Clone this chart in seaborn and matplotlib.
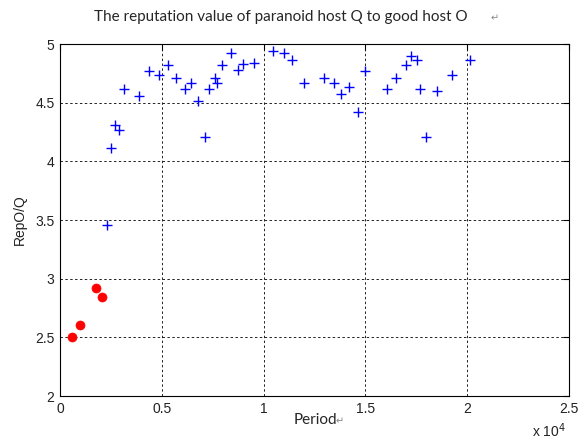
import matplotlib
matplotlib.use("Agg")
import matplotlib.pyplot as plt
import seaborn as sns
import pandas as pd

# Data (Period, RepO/Q)
blue_period = [2295, 2490, 2705, 2915, 3160, 3900, 4360, 4880, 5290, 5700,
               6160, 6440, 6800, 7110, 7340, 7620, 7730, 7980, 8390, 8750,
               8980, 9520, 10470, 11000, 11410, 11960, 12990, 13460, 13800, 14210,
               14640, 14980, 16040, 16500, 17010, 17230, 17520, 17670, 17960, 18500,
               19260, 20120]
blue_rep = [3.46, 4.11, 4.31, 4.27, 4.62, 4.56, 4.77, 4.74, 4.82, 4.71,
            4.62, 4.67, 4.51, 4.21, 4.62, 4.71, 4.67, 4.82, 4.92, 4.78,
            4.83, 4.84, 4.94, 4.92, 4.86, 4.67, 4.71, 4.67, 4.57, 4.63,
            4.42, 4.77, 4.62, 4.71, 4.82, 4.90, 4.86, 4.62, 4.21, 4.60,
            4.74, 4.86]
red_period = [575, 983, 1770, 2080]
red_rep = [2.50, 2.605, 2.92, 2.84]

xticks = [0, 5000, 10000, 15000, 20000, 25000]
xticklabels = ["0", "0.5", "1", "1.5", "2", "2.5"]
yticks = [2, 2.5, 3, 3.5, 4, 4.5, 5]
yticklabels = ["2", "2.5", "3", "3.5", "4", "4.5", "5"]

blue_df = pd.DataFrame({"Period": blue_period, "Rep": blue_rep})
red_df = pd.DataFrame({"Period": red_period, "Rep": red_rep})

sns.set_style("white")
plt.rcParams["font.family"] = ["Liberation Sans", "DejaVu Sans"]

fig = plt.figure(figsize=(5.82, 4.40), dpi=100)
ax = fig.add_axes([60 / 582, 1 - 396 / 440, (569 - 60) / 582, (396 - 44) / 440])

sns.scatterplot(data=blue_df, x="Period", y="Rep", ax=ax, marker="+",
                color="#0000ff", s=55, linewidth=1.0, zorder=3)
sns.scatterplot(data=red_df, x="Period", y="Rep", ax=ax, marker="o",
                color="#ff0000", s=42, edgecolor="#ff0000", linewidth=0.5, zorder=3)

ax.set_xlim(0, 25000)
ax.set_ylim(2, 5)
ax.set_xticks(xticks)
ax.set_xticklabels(xticklabels)
ax.set_yticks(yticks)
ax.set_yticklabels(yticklabels)
ax.tick_params(direction="in", length=4, width=0.8, top=True, right=True,
               labelsize=10, colors="black", labelcolor="#222222", pad=4)
ax.grid(True, color="#222222", linestyle=(0, (2.5, 2.5)), linewidth=0.7)
for sp in ax.spines.values():
    sp.set_visible(True)
    sp.set_color("black")
    sp.set_linewidth(0.8)

ax.set_xlabel("")
ax.set_ylabel("RepO/Q", fontsize=10, labelpad=6, color="#222222")

fig.text(281 / 582, 1 - 17 / 440, "The reputation value of paranoid host Q to good host O",
         ha="center", va="center", fontsize=11, family=["Lato", "DejaVu Sans"])
fig.text(495 / 582, 1 - 18 / 440, "\u21b5", ha="center", va="center", fontsize=7,
         color="#888888", family=["DejaVu Sans"])
fig.text(315 / 582, 1 - 420 / 440, "Period", ha="center", va="center", fontsize=11,
         family=["Lato", "DejaVu Sans"])
fig.text(340 / 582, 1 - 421 / 440, "\u21b5", ha="center", va="center", fontsize=7,
         color="#888888", family=["DejaVu Sans"])
fig.text(549 / 582, 1 - 431 / 440, "x 10$^{4}$", ha="center", va="center", fontsize=10,
         color="#222222")

fig.savefig("out.png", dpi=100)
